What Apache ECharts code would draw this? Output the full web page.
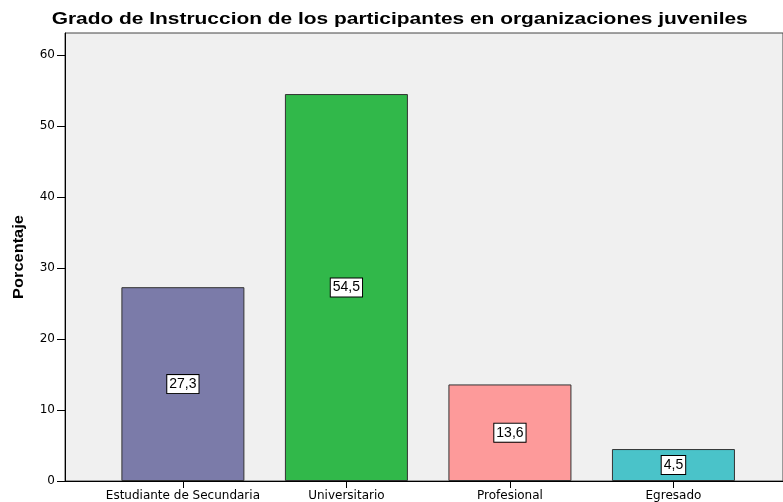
<!DOCTYPE html>
<html><head><meta charset="utf-8">
<script src="https://cdn.jsdelivr.net/npm/echarts@6/dist/echarts.min.js"></script>
<style>html,body{margin:0;padding:0;background:#fff}#c{width:783px;height:502px}</style>
</head><body><div id="c"></div>
<script>
const titleText = 'Grado de Instruccion de los participantes en organizaciones juveniles';
const yName = 'Porcentaje';
const categories = ['Estudiante de Secundaria', 'Universitario', 'Profesional', 'Egresado'];
const values = [27.3, 54.5, 13.6, 4.5];
const colors = ['#7b7ba9', '#31b84a', '#fd9a9a', '#4ac3c9'];
const yTicks = [0, 10, 20, 30, 40, 50, 60];
const xTicks = [0, 1, 2, 3];

const LAB = 'DejaVu Sans, Verdana, sans-serif';
const chart = echarts.init(document.getElementById('c'));
chart.setOption({
  animation: false,
  graphic: [
    {type: 'text', x: 399.7, y: 19.5, scaleX: 1.23,
     style: {text: titleText, font: 'bold 17px "Liberation Sans", Arial', fill: '#000', align: 'center', verticalAlign: 'middle'}},
    {type: 'text', x: 19.5, y: 257, rotation: Math.PI / 2, scaleX: 1.17,
     style: {text: yName, font: 'bold 14px "Liberation Sans", Arial', fill: '#000', align: 'center', verticalAlign: 'middle'}}
  ],
  grid: {left: 65, right: -1, top: 33, bottom: 20.5, show: true, backgroundColor: '#f0f0f0', borderColor: '#444', borderWidth: 1},
  xAxis: {
    type: 'value', min: -0.721, max: 3.67,
    splitLine: {show: false},
    axisLine: {show: true, lineStyle: {color: '#000', width: 1}},
    axisTick: {show: true, customValues: xTicks, length: 7, lineStyle: {color: '#000'}},
    axisLabel: {customValues: xTicks, formatter: v => categories[Math.round(v)] || '', color: '#000', fontFamily: LAB, fontSize: 12, margin: 9}
  },
  yAxis: {
    type: 'value', min: 0, max: 63.1,
    splitLine: {show: false},
    axisLine: {show: true, onZero: false, lineStyle: {color: '#000', width: 1}},
    axisTick: {show: true, customValues: yTicks, length: 8, lineStyle: {color: '#000'}},
    axisLabel: {customValues: yTicks, color: '#000', fontFamily: LAB, fontSize: 12, margin: 10}
  },
  series: [{
    type: 'bar',
    barWidth: 123,
    data: values.map((v, i) => ({value: [i, v], itemStyle: {color: colors[i]}})),
    itemStyle: {borderColor: '#333', borderWidth: 1},
    label: {
      show: true, position: 'inside',
      formatter: p => String(p.value[1]).replace('.', ','),
      color: '#000', fontFamily: '"Liberation Sans", Arial', fontSize: 14, lineHeight: 16,
      backgroundColor: '#fff', borderColor: '#000', borderWidth: 1, padding: [1, 2, 1, 2]
    }
  }]
});
</script></body></html>
